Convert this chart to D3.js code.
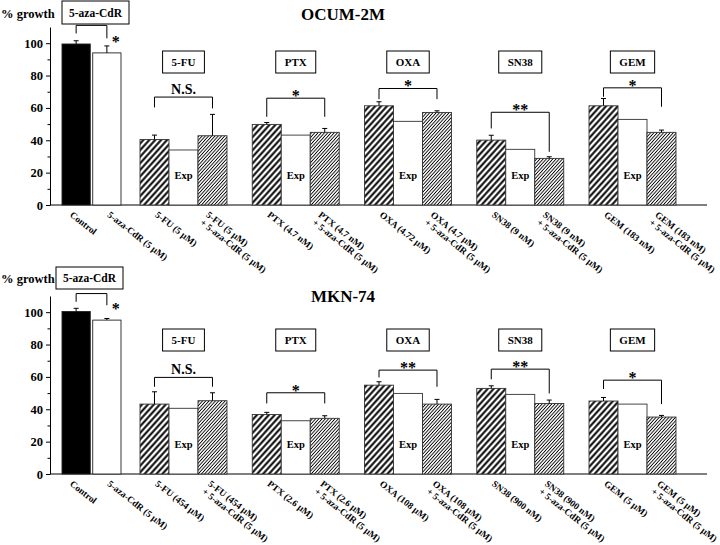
<!DOCTYPE html>
<html>
<head>
<meta charset="utf-8">
<script src="https://cdn.jsdelivr.net/npm/d3@7"></script>
<style>
  body { margin: 0; background: #fff; }
  text { font-family: "Liberation Serif", "Times New Roman", serif; font-weight: bold; fill: #000; }
</style>
</head>
<body>
<script>
// groups
const drugs = ["5-FU", "PTX", "OXA", "SN38", "GEM"];
const ctrlNames = ["Control", "5-aza-CdR"];
const kinds = ["alone", "exp", "combo"];

// OCUM-2M
const ocumCtrl = [99.5, 94.0];
const ocumCtrlErr = [2.0, 4.3];
const ocumAlone = [40.5, 49.8, 61.3, 40.1, 61.3];
const ocumAloneErr = [2.7, 1.2, 2.5, 3.0, 4.5];
const ocumExp = [34.0, 43.2, 51.7, 34.4, 52.9];
const ocumCombo = [42.8, 44.9, 57.2, 28.8, 44.9];
const ocumComboErr = [13.2, 2.4, 1.0, 1.0, 1.4];
const ocumSig = ["N.S.", "*", "*", "**", "*"];
const ocumBracket = [66.7, 66.0, 72.0, 57.3, 72.4];
const ocumLegL = [60.3, 54.5, 65.4, 47.3, 66.9];
const ocumLegR = [59.7, 54.5, 65.4, 32.9, 60.7];
const ocumAzaBracket = [111, 106, 103];
const ocumAloneLabels = ["5-FU (5 μM)", "PTX (4.7 nM)", "OXA (4.72 μM)", "SN38 (9 nM)", "GEM (183 nM)"];
const ocumComboLabels = ["5-FU (5 μM)", "PTX (4.7 nM)", "OXA (4.7 μM)", "SN38 (9 nM)", "GEM (183 nM)"];

// MKN-74
const mknCtrl = [100.4, 95.1];
const mknCtrlErr = [2.0, 1.0];
const mknAlone = [43.2, 36.8, 54.9, 52.9, 45.1];
const mknAloneErr = [7.6, 1.3, 2.1, 1.6, 2.2];
const mknExp = [40.6, 32.9, 49.8, 49.2, 43.2];
const mknCombo = [45.3, 34.4, 43.2, 43.6, 35.2];
const mknComboErr = [4.9, 1.6, 2.9, 2.1, 1.0];
const mknSig = ["N.S.", "*", "**", "**", "*"];
const mknBracket = [59.7, 50.2, 64.2, 64.8, 58.0];
const mknLegL = [53.9, 43.6, 59.7, 58.5, 52.5];
const mknLegR = [53.9, 43.6, 53.9, 49.8, 43.2];
const mknAzaBracket = [111.5, 106.4, 104.3];
const mknAloneLabels = ["5-FU (454 μM)", "PTX (2.6 μM)", "OXA (108 μM)", "SN38 (900 nM)", "GEM (5 μM)"];
const mknComboLabels = mknAloneLabels;

const ctrlLabels = ["Control", "5-aza-CdR (5 μM)"];
const comboSuffix = "+ 5-aza-CdR (5 μM)";
const majorTicks = [0, 20, 40, 60, 80, 100];
const minorTicks = [10, 30, 50, 70, 90];

const panels = [
    {title: "OCUM-2M", axisY: 205, titleY: 20, growthY: 18, azaBox: {x: 62, y: 1, w: 67, h: 23}, drugBoxY: 51, comboShift: -7,
     ctrl: ocumCtrl, ctrlErr: ocumCtrlErr, alone: ocumAlone, aloneErr: ocumAloneErr, exp: ocumExp,
     combo: ocumCombo, comboErr: ocumComboErr, sig: ocumSig, bracket: ocumBracket, legL: ocumLegL, legR: ocumLegR,
     aza: ocumAzaBracket, aloneLabels: ocumAloneLabels, comboLabels: ocumComboLabels},
    {title: "MKN-74", axisY: 474, titleY: 302, growthY: 283, azaBox: {x: 56, y: 267, w: 67, h: 22}, drugBoxY: 329, comboShift: -5,
     ctrl: mknCtrl, ctrlErr: mknCtrlErr, alone: mknAlone, aloneErr: mknAloneErr, exp: mknExp,
     combo: mknCombo, comboErr: mknComboErr, sig: mknSig, bracket: mknBracket, legL: mknLegL, legR: mknLegR,
     aza: mknAzaBracket, aloneLabels: mknAloneLabels, comboLabels: mknComboLabels}
];

const svg = d3.select("body").append("svg")
    .attr("width", 720)
    .attr("height", 545);

const defs = svg.append("defs");
function hatch(id, size, sw) {
    const p = defs.append("pattern")
        .attr("id", id)
        .attr("width", size)
        .attr("height", size)
        .attr("patternUnits", "userSpaceOnUse")
        .attr("patternTransform", "rotate(42)");
    p.append("rect").attr("width", size).attr("height", size).attr("fill", "#fff");
    p.append("line")
        .attr("x1", size / 2).attr("y1", 0)
        .attr("x2", size / 2).attr("y2", size)
        .attr("stroke", "#000")
        .attr("stroke-width", sw);
}
hatch("hatchThick", 4.4, 2.0);
hatch("hatchThin", 2.4, 0.9);

const xCtrl = d3.scaleBand().domain(ctrlNames).range([62, 121]).paddingInner(0.08);
const xDrug = d3.scaleBand().domain(drugs).range([140, 676]).paddingInner(0.225);
const xKind = d3.scaleBand().domain(kinds).range([0, xDrug.bandwidth()]);
const bw = xKind.bandwidth();

const fills = {alone: "url(#hatchThick)", exp: "#fff", combo: "url(#hatchThin)"};

function drawPanel(P) {
    const g = svg.append("g");
    const y = d3.scaleLinear().domain([0, 110]).range([P.axisY, P.axisY - 178]);

    // title + y label
    g.append("text").attr("x", 343).attr("y", P.titleY).attr("text-anchor", "middle")
        .style("font-size", "17px").text(P.title);
    g.append("text").attr("x", 1).attr("y", P.growthY).style("font-size", "12.5px").text("% growth");

    // axes
    const ax = g.append("g").attr("transform", "translate(50,0)")
        .call(d3.axisLeft(y).tickValues(majorTicks).tickSize(4).tickSizeOuter(0).tickPadding(3));
    ax.selectAll("text").style("font-family", "Liberation Serif, serif").style("font-weight", "bold")
        .style("font-size", "12.5px");
    ax.select(".domain").attr("stroke-width", 1);
    g.append("g").attr("transform", "translate(50,0)")
        .call(d3.axisLeft(y).tickValues(minorTicks).tickSize(2.5).tickSizeOuter(0).tickFormat(""))
        .select(".domain").remove();
    g.append("line").attr("x1", 50).attr("x2", 707).attr("y1", P.axisY).attr("y2", P.axisY)
        .attr("stroke", "#000").attr("stroke-width", 1);

    // control bars
    const ctrlData = ctrlNames.map((n, i) => ({n: n, v: P.ctrl[i], e: P.ctrlErr[i]}));
    g.selectAll(".ctrl").data(ctrlData).enter().append("rect")
        .attr("x", d => xCtrl(d.n))
        .attr("y", d => y(d.v))
        .attr("width", xCtrl.bandwidth())
        .attr("height", d => P.axisY - y(d.v))
        .attr("fill", (d, i) => i === 0 ? "#000" : "#fff")
        .attr("stroke", "#222").attr("stroke-width", 0.9);
    ctrlData.forEach(d => errBar(g, y, xCtrl(d.n) + xCtrl.bandwidth() / 2, d.v, d.e));

    // aza box + bracket
    g.append("rect").attr("x", P.azaBox.x).attr("y", P.azaBox.y).attr("width", P.azaBox.w).attr("height", P.azaBox.h)
        .attr("fill", "#fff").attr("stroke", "#000").attr("stroke-width", 1);
    g.append("text").attr("x", P.azaBox.x + P.azaBox.w / 2).attr("y", P.azaBox.y + P.azaBox.h / 2 + 4)
        .attr("text-anchor", "middle").style("font-size", "11.5px").text("5-aza-CdR");
    const c0 = xCtrl(ctrlNames[0]) + xCtrl.bandwidth() / 2;
    const c1 = xCtrl(ctrlNames[1]) + xCtrl.bandwidth() / 2;
    bracket(g, c0, c1, y(P.aza[0]), y(P.aza[1]), y(P.aza[2]));
    g.append("text").attr("x", c1 + 9).attr("y", y(P.aza[2]) + 9).attr("text-anchor", "middle")
        .style("font-size", "16px").text("*");

    // drug groups
    drugs.forEach((dr, i) => {
        const gx = xDrug(dr);
        const vals = {alone: P.alone[i], exp: P.exp[i], combo: P.combo[i]};
        const errs = {alone: P.aloneErr[i], exp: 0, combo: P.comboErr[i]};
        g.selectAll(".b" + i).data(kinds).enter().append("rect")
            .attr("x", k => gx + xKind(k))
            .attr("y", k => y(vals[k]))
            .attr("width", bw)
            .attr("height", k => P.axisY - y(vals[k]))
            .attr("fill", k => fills[k])
            .attr("stroke", "#333").attr("stroke-width", 0.9);
        kinds.forEach(k => { if (errs[k] > 0) errBar(g, y, gx + xKind(k) + bw / 2, vals[k], errs[k]); });

        g.append("text").attr("x", gx + xKind("exp") + bw / 2).attr("y", P.axisY - 26)
            .attr("text-anchor", "middle").style("font-size", "10.5px").text("Exp");

        // drug label box
        const cx = gx + xDrug.bandwidth() / 2;
        const box = g.append("rect").attr("y", P.drugBoxY).attr("height", 22)
            .attr("fill", "#fff").attr("stroke", "#000").attr("stroke-width", 1);
        const t = g.append("text").attr("x", cx).attr("y", P.drugBoxY + 15)
            .attr("text-anchor", "middle").style("font-size", "11px").text(dr);
        const tw = t.node().getComputedTextLength();
        box.attr("x", cx - tw / 2 - 9).attr("width", tw + 18);

        const a = gx + xKind("alone") + bw / 2;
        const b = gx + xKind("combo") + bw / 2;
        bracket(g, a, b, y(P.bracket[i]), y(P.legL[i]), y(P.legR[i]));
        const isNS = P.sig[i] === "N.S.";
        g.append("text").attr("x", (a + b) / 2).attr("y", y(P.bracket[i]) + (isNS ? -3 : 3))
            .attr("text-anchor", "middle").style("font-size", isNS ? "14px" : "16px").text(P.sig[i]);

        xLabel(g, P.axisY, a, [P.aloneLabels[i]]);
        xLabel(g, P.axisY, b + P.comboShift, [P.comboLabels[i], comboSuffix]);
    });

    xLabel(g, P.axisY, c0 - 7, [ctrlLabels[0]]);
    xLabel(g, P.axisY, c1, [ctrlLabels[1]]);
}

function errBar(g, y, cx, v, e) {
    g.append("line").attr("x1", cx).attr("x2", cx).attr("y1", y(v)).attr("y2", y(v + e))
        .attr("stroke", "#000").attr("stroke-width", 1);
    g.append("line").attr("x1", cx - 2.5).attr("x2", cx + 2.5).attr("y1", y(v + e)).attr("y2", y(v + e))
        .attr("stroke", "#000").attr("stroke-width", 1);
}

function bracket(g, x1, x2, top, l, r) {
    g.append("path")
        .attr("d", `M${x1},${l}V${top}H${x2}V${r}`)
        .attr("fill", "none").attr("stroke", "#000").attr("stroke-width", 1);
}

function xLabel(g, axisY, cx, lines) {
    const t = g.append("text")
        .attr("transform", `translate(${cx},${axisY + 11}) rotate(38)`)
        .style("font-size", "9.4px");
    lines.forEach((s, j) => {
        t.append("tspan").attr("x", 0).attr("dy", j === 0 ? 0 : "1.05em").text(s);
    });
}

panels.forEach(drawPanel);
</script>
</body>
</html>
